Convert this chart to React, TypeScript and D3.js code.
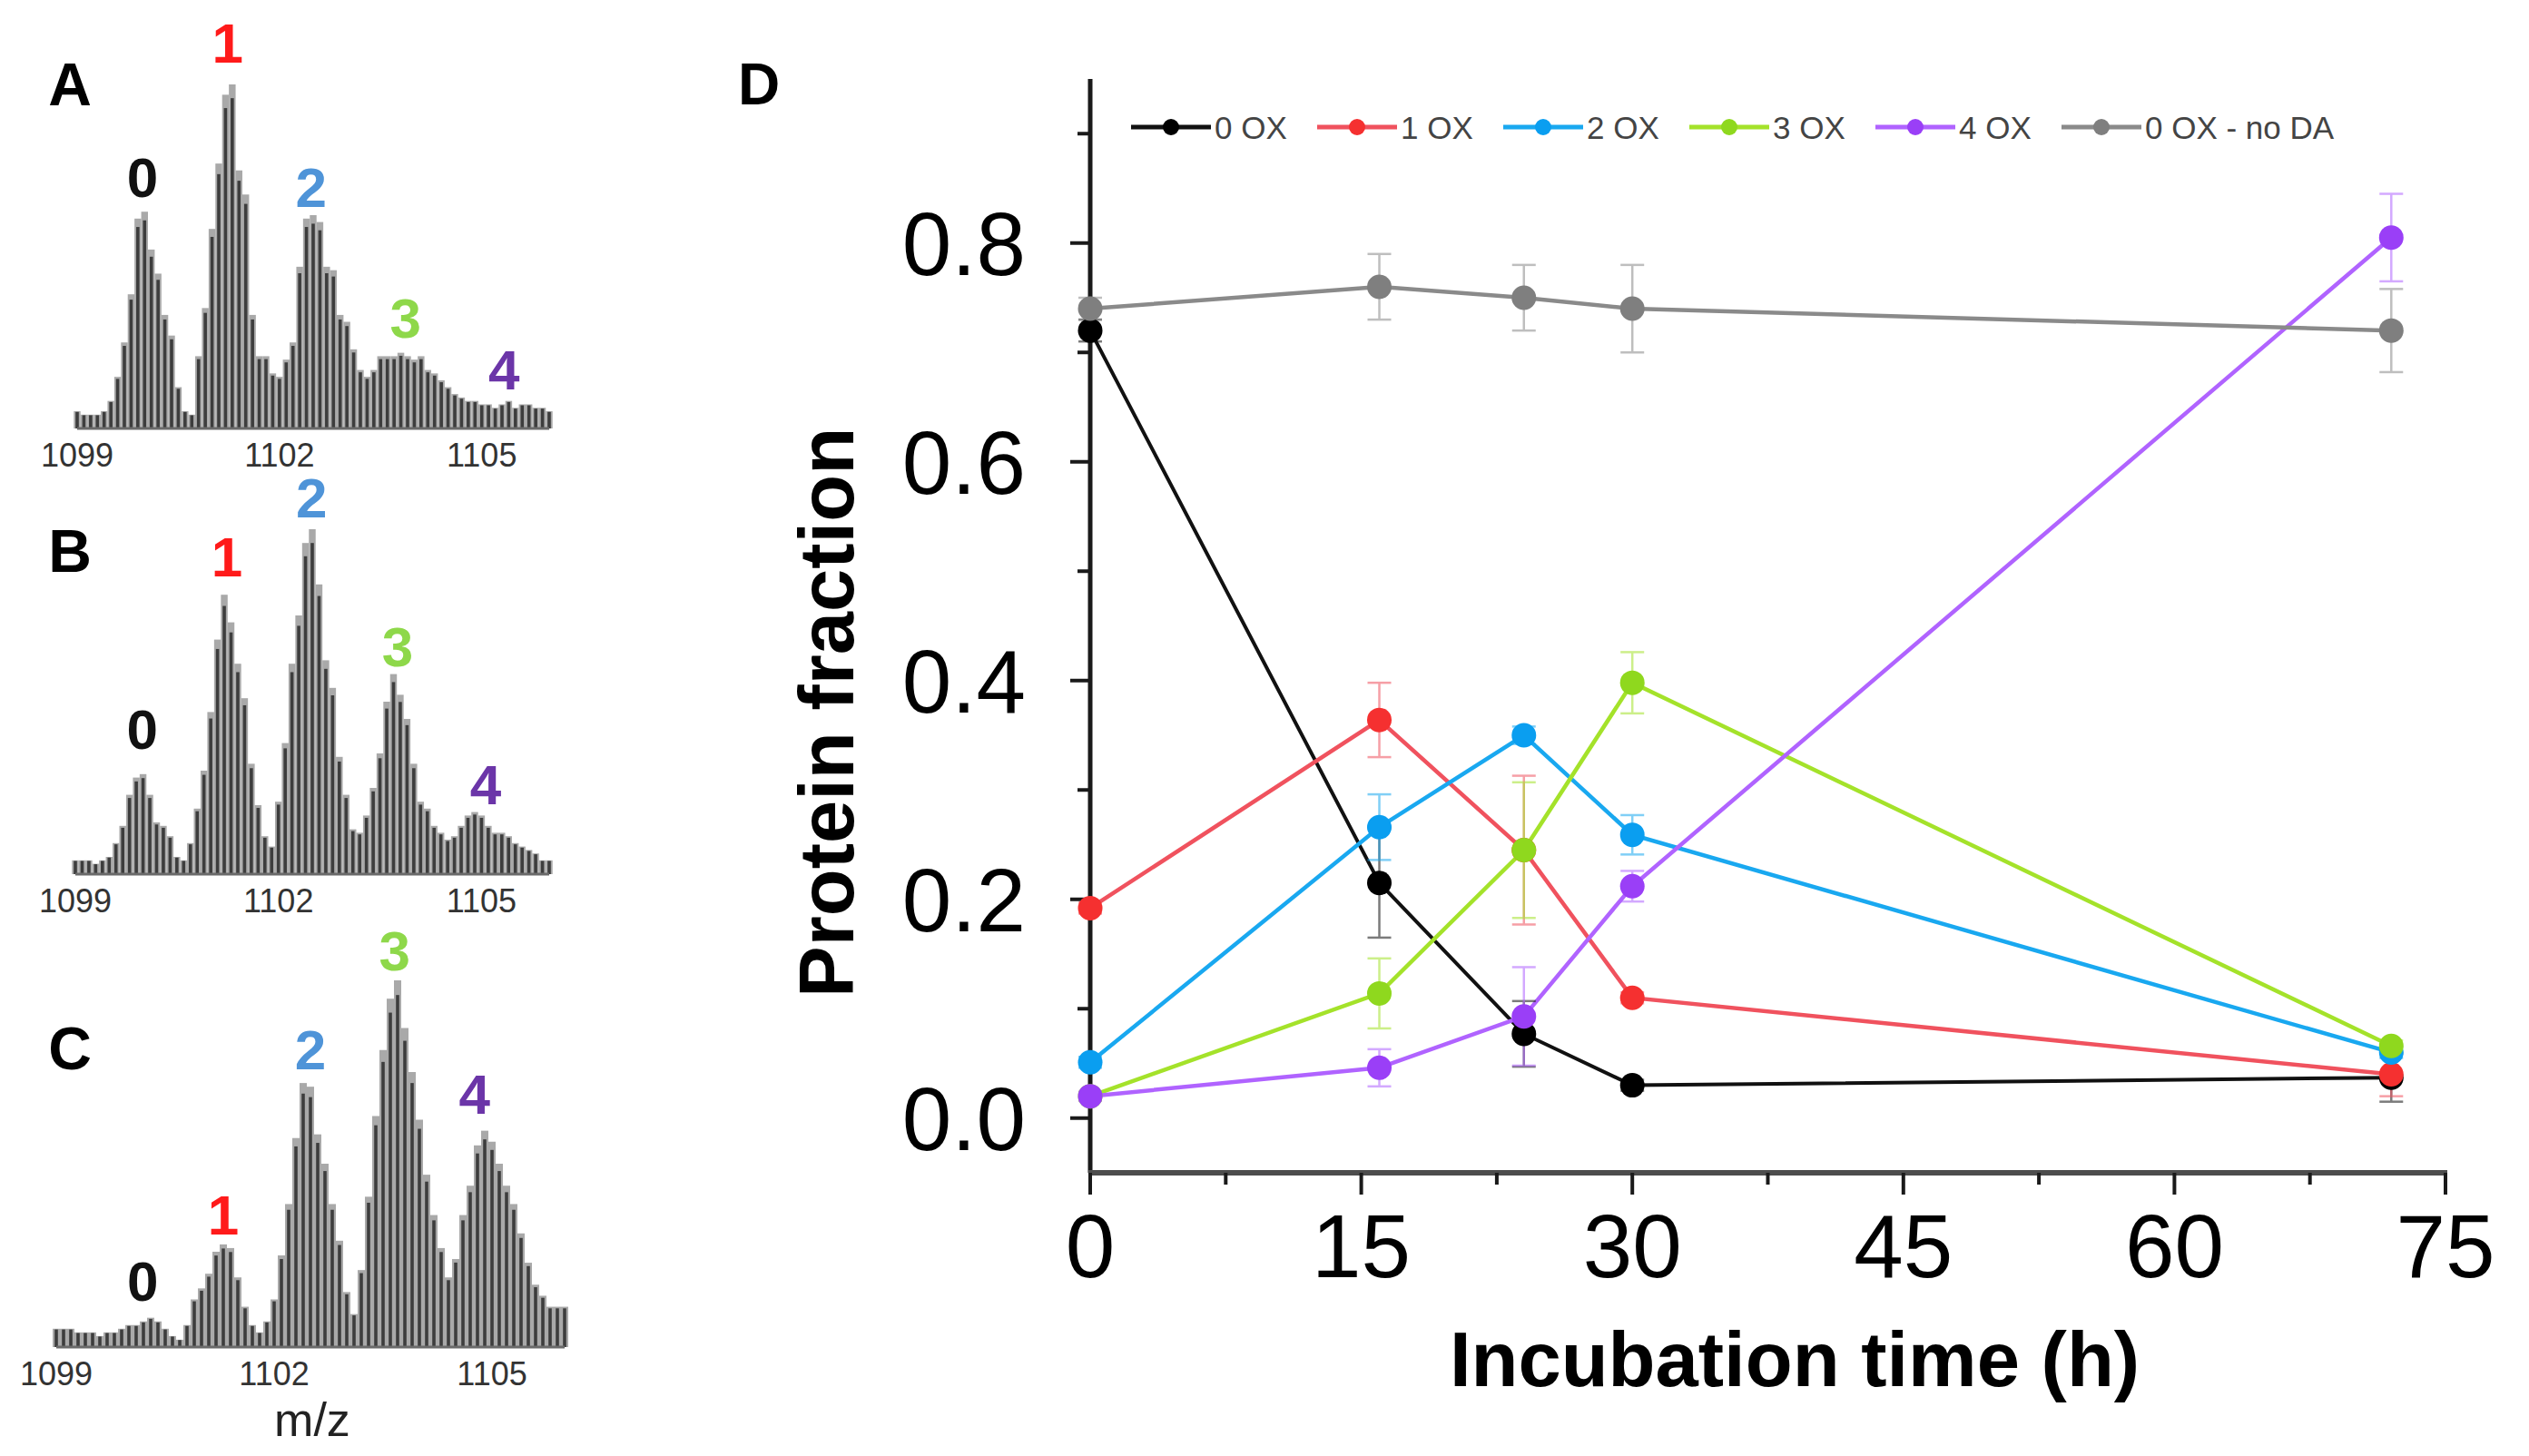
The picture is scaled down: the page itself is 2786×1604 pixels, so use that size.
import { useEffect } from "react";
import * as d3 from "d3";

// time course (h)
const times = [0, 16, 24, 30, 72];

const seriesNames = ["0 OX", "1 OX", "2 OX", "3 OX", "4 OX", "0 OX - no DA"];
const ox0 = [0.72, 0.215, 0.077, 0.03, 0.037];
const ox0Err = [0.01, 0.05, 0.03, 0.005, 0.022];
const ox1 = [0.192, 0.364, 0.245, 0.11, 0.04];
const ox1Err = [0.005, 0.034, 0.068, 0.005, 0.02];
const ox2 = [0.051, 0.266, 0.35, 0.259, 0.06];
const ox2Err = [0.005, 0.03, 0.008, 0.018, 0.005];
const ox3 = [0.02, 0.114, 0.245, 0.398, 0.066];
const ox3Err = [0.004, 0.032, 0.062, 0.028, 0.005];
const ox4 = [0.02, 0.046, 0.093, 0.212, 0.805];
const ox4Err = [0.004, 0.017, 0.045, 0.014, 0.04];
const noDa = [0.74, 0.76, 0.75, 0.74, 0.72];
const noDaErr = [0.01, 0.03, 0.03, 0.04, 0.038];

const lineColors = ["#111111", "#f0525e", "#19a8f0", "#a4e22a", "#b063ff", "#8a8a8a"];
const markColors = ["#000000", "#f53030", "#0a9ef0", "#8fd81e", "#9a3ff7", "#7f7f7f"];

const xTicks = [0, 15, 30, 45, 60, 75];
const yTicks = [0, 0.2, 0.4, 0.6, 0.8];

// mass spectra, relative intensity every 0.1 m/z from 1099.0 to 1106.0
const specA = [5, 4, 4, 4, 5, 8, 15, 25, 39, 61, 63, 52, 45, 33, 27, 12, 5, 4, 21, 35,
  58, 77, 97, 100, 75, 68, 33, 21, 21, 16, 15, 20, 25, 47, 61, 62, 60, 47, 46, 33,
  31, 23, 17, 15, 17, 21, 21, 21, 22, 21, 20, 21, 17, 16, 14, 12, 10, 9, 8, 8,
  7, 7, 6, 7, 8, 6, 7, 7, 6, 6, 5];
const specB = [4, 4, 4, 3, 4, 5, 9, 14, 23, 28, 29, 23, 15, 14, 11, 5, 4, 9, 19, 30,
  47, 68, 81, 73, 61, 51, 32, 20, 11, 8, 21, 38, 61, 75, 96, 100, 84, 62, 54, 34,
  23, 13, 12, 17, 25, 35, 50, 58, 52, 45, 32, 21, 19, 14, 12, 10, 11, 14, 17, 18,
  17, 14, 12, 12, 11, 9, 8, 7, 6, 4, 4];
const specC = [5, 5, 5, 4, 4, 4, 3, 4, 4, 5, 6, 6, 7, 8, 7, 5, 3, 2, 6, 13,
  16, 20, 26, 28, 27, 19, 11, 6, 4, 7, 13, 25, 39, 57, 72, 71, 58, 50, 39, 29,
  15, 9, 21, 41, 63, 81, 95, 100, 87, 75, 62, 47, 36, 27, 19, 24, 36, 44, 55, 59,
  56, 50, 44, 39, 31, 23, 17, 14, 11, 11, 11];
const mzTicks = [1099, 1102, 1105];
const peakText = ["0", "1", "2", "3", "4"];
const peakColors = ["#111111", "#ff1a1a", "#4f94d8", "#8ed84a", "#6b35a8"];
// label anchor (m/z, intensity) per panel
const labelsA: [number, number][] = [[1099.97, 73], [1101.23, 112], [1102.47, 70], [1103.87, 32], [1105.33, 17]];
const labelsB: [number, number][] = [[1099.99, 42], [1101.24, 92], [1102.49, 109], [1103.76, 66], [1105.06, 26]];
const labelsC: [number, number][] = [[1100.19, 18], [1101.3, 36], [1102.5, 81], [1103.66, 108], [1104.76, 69]];

const FONT = "'Liberation Sans', Arial, sans-serif";

interface SpecProps {
  letter: string;
  values: number[];
  labels: [number, number][];
  x0: number; x1: number;
  base: number; top: number;
  letterY: number;
  showMz?: boolean;
}

function Spectrum({ letter, values, labels, x0, x1, base, top, letterY, showMz }: SpecProps) {
  const mz = values.map((_, i) => 1099 + i * 0.1);
  const x = d3.scaleLinear().domain([1099, 1106]).range([x0, x1]);
  const y = d3.scaleLinear().domain([0, 100]).range([base, top]);
  const bw = x(1099.1) - x(1099);
  return (
    <g>
      <text x={77} y={letterY} fontSize={66} fontWeight="bold" fontFamily={FONT}
        textAnchor="middle" dominantBaseline="central">{letter}</text>
      {values.map((v, i) => (
        <g key={i}>
          <rect x={x(mz[i]) - bw / 2} y={y(v)} width={bw} height={base - y(v)} fill="#a9a9a9" />
          <rect x={x(mz[i]) - 1.8} y={y(v * 0.96)} width={3.6} height={base - y(v * 0.96)} fill="#3d3d3d" />
        </g>
      ))}
      <line x1={x0} x2={x1} y1={base} y2={base} stroke="#6a6a6a" strokeWidth={3} />
      {mzTicks.map((t) => (
        <text key={t} x={x(t)} y={base + 42} fontSize={36} fill="#333" fontFamily={FONT}
          textAnchor="middle">{t}</text>
      ))}
      {labels.map(([m, v], i) => (
        <text key={i} x={x(m)} y={y(v)} fontSize={62} fontWeight="bold" fill={peakColors[i]}
          fontFamily={FONT} textAnchor="middle" dominantBaseline="central">{peakText[i]}</text>
      ))}
      {showMz && (
        <text x={(x0 + x1) / 2 + 2} y={base + 98} fontSize={52} fill="#222" fontFamily={FONT}
          textAnchor="middle">m/z</text>
      )}
    </g>
  );
}

function TimeCourse() {
  const x = d3.scaleLinear().domain([0, 75]).range([1201, 2694]);
  const y = d3.scaleLinear().domain([-0.05, 0.95]).range([1292, 87]);
  const series = [ox0, ox1, ox2, ox3, ox4, noDa];
  const errs = [ox0Err, ox1Err, ox2Err, ox3Err, ox4Err, noDaErr];
  const line = d3.line<number>().x((_, i) => x(times[i])).y((d) => y(d));
  const minorX = [7.5, 22.5, 37.5, 52.5, 67.5];
  const minorY = [0.1, 0.3, 0.5, 0.7, 0.9];

  return (
    <g fontFamily={FONT}>
      <text x={836} y={93} fontSize={64} fontWeight="bold" textAnchor="middle"
        dominantBaseline="central">D</text>

      {/* axes */}
      <line x1={x(0)} x2={x(0)} y1={y(0.95)} y2={y(-0.05)} stroke="#1a1a1a" strokeWidth={5} />
      <line x1={x(0) - 2} x2={x(75) + 2} y1={y(-0.05)} y2={y(-0.05)} stroke="#4d4d4d" strokeWidth={6} />
      {yTicks.map((t) => (
        <g key={t}>
          <line x1={x(0) - 22} x2={x(0)} y1={y(t)} y2={y(t)} stroke="#1a1a1a" strokeWidth={4} />
          <text x={1130} y={y(t)} dy="0.36em" fontSize={98} textAnchor="end">{t.toFixed(1)}</text>
        </g>
      ))}
      {minorY.map((t) => (
        <line key={t} x1={x(0) - 14} x2={x(0)} y1={y(t)} y2={y(t)} stroke="#1a1a1a" strokeWidth={4} />
      ))}
      {xTicks.map((t) => (
        <g key={t}>
          <line x1={x(t)} x2={x(t)} y1={y(-0.05)} y2={y(-0.05) + 24} stroke="#1a1a1a" strokeWidth={4} />
          <text x={x(t)} y={1407} fontSize={98} textAnchor="middle">{t}</text>
        </g>
      ))}
      {minorX.map((t) => (
        <line key={t} x1={x(t)} x2={x(t)} y1={y(-0.05)} y2={y(-0.05) + 13} stroke="#1a1a1a" strokeWidth={4} />
      ))}
      <text x={1977} y={1527} fontSize={85} fontWeight="bold" textAnchor="middle">Incubation time (h)</text>
      <text transform="translate(940,785) rotate(-90)" fontSize={85} fontWeight="bold"
        textAnchor="middle">Protein fraction</text>

      {/* series */}
      {series.map((s, k) => (
        <path key={"l" + k} d={line(s) ?? ""} fill="none" stroke={lineColors[k]}
          strokeWidth={k === 0 ? 4 : 4.5} />
      ))}
      {series.map((s, k) => (
        <g key={"e" + k} stroke={lineColors[k]} strokeWidth={2.5} opacity={0.55}>
          {s.map((v, i) => (
            <g key={i}>
              <line x1={x(times[i])} x2={x(times[i])} y1={y(v - errs[k][i])} y2={y(v + errs[k][i])} />
              <line x1={x(times[i]) - 13} x2={x(times[i]) + 13} y1={y(v - errs[k][i])} y2={y(v - errs[k][i])} />
              <line x1={x(times[i]) - 13} x2={x(times[i]) + 13} y1={y(v + errs[k][i])} y2={y(v + errs[k][i])} />
            </g>
          ))}
        </g>
      ))}
      {series.map((s, k) => (
        <g key={"m" + k} fill={markColors[k]}>
          {s.map((v, i) => (
            <circle key={i} cx={x(times[i])} cy={y(v)} r={13.5} />
          ))}
        </g>
      ))}

      {/* legend */}
      {seriesNames.map((name, k) => {
        const lx = 1246 + k * 205;
        return (
          <g key={name}>
            <line x1={lx} x2={lx + 88} y1={140} y2={140} stroke={lineColors[k]} strokeWidth={5} />
            <circle cx={lx + 44} cy={140} r={9} fill={markColors[k]} />
            <text x={lx + 92} y={140} dy="0.36em" fontSize={35} fill="#444">{name}</text>
          </g>
        );
      })}
    </g>
  );
}

export default function App() {
  useEffect(() => {
    document.body.style.margin = "0";
  }, []);
  return (
    <svg width={2786} height={1604} viewBox="0 0 2786 1604"
      style={{ position: "absolute", left: 0, top: 0, background: "#fff" }}>
      <rect width={2786} height={1604} fill="#fff" />
      <Spectrum letter="A" values={specA} labels={labelsA} x0={85} x1={605} base={472} top={93} letterY={93} />
      <Spectrum letter="B" values={specB} labels={labelsB} x0={83} x1={605} base={963} top={583} letterY={607} />
      <Spectrum letter="C" values={specC} labels={labelsC} x0={62} x1={622} base={1484} top={1080} letterY={1155} showMz />
      <TimeCourse />
    </svg>
  );
}
